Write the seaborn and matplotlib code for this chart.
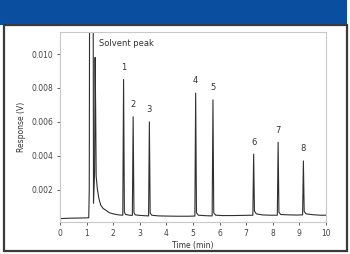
import matplotlib
matplotlib.use("Agg")
import matplotlib.pyplot as plt
import seaborn as sns
import pandas as pd
from matplotlib.patches import Rectangle

# Chromatogram trace (time in min, response in V)
time = [0.0, 0.3, 0.6, 0.9, 1.08, 1.10, 1.12, 1.24, 1.26, 1.30, 1.32, 1.34, 1.36,
        1.40, 1.46, 1.53, 1.62, 1.72, 1.85, 2.0, 2.2, 2.36, 2.39, 2.42, 2.46, 2.6, 2.72,
        2.75, 2.78, 2.83, 3.0, 3.2, 3.33, 3.36, 3.39, 3.45, 3.7, 4.0, 4.4,
        4.8, 5.07, 5.10, 5.13, 5.2, 5.5, 5.72, 5.75, 5.78, 5.85, 6.1, 6.5,
        6.9, 7.25, 7.28, 7.31, 7.38, 7.6, 7.9, 8.17, 8.20, 8.23, 8.3, 8.6,
        8.9, 9.12, 9.15, 9.18, 9.25, 9.5, 9.8, 10.0]
response = [0.00030, 0.00032, 0.00033, 0.00034, 0.00035, 0.0020, 0.0200, 0.0200, 0.0012,
            0.0030, 0.0098, 0.0068, 0.0028, 0.0021, 0.0015, 0.0011, 0.0009, 0.0008,
            0.00065, 0.00058,
            0.00052, 0.00050, 0.0085, 0.00070, 0.00055, 0.00050, 0.00049, 0.0063,
            0.00065, 0.00052, 0.00049, 0.00047, 0.00046, 0.0060, 0.00062, 0.00050,
            0.00046, 0.00045, 0.00044, 0.00044, 0.00045, 0.0077, 0.00065, 0.00050,
            0.00047, 0.00046, 0.0073, 0.00065, 0.00050, 0.00048, 0.00048, 0.00049,
            0.00050, 0.0041, 0.00075, 0.00058, 0.00052, 0.00050, 0.00050, 0.0048,
            0.00068, 0.00054, 0.00052, 0.00051, 0.00052, 0.0037, 0.00072, 0.00058,
            0.00053, 0.00050, 0.00050]

peak_labels = ["1", "2", "3", "4", "5", "6", "7", "8"]
peak_times = [2.39, 2.75, 3.36, 5.10, 5.75, 7.28, 8.20, 9.15]
peak_heights = [0.0085, 0.0063, 0.0060, 0.0077, 0.0073, 0.0041, 0.0048, 0.0037]

x_ticks = [0, 1, 2, 3, 4, 5, 6, 7, 8, 9, 10]
y_ticks = [0.002, 0.004, 0.006, 0.008, 0.010]
y_tick_labels = ["0.002", "0.004", "0.006", "0.008", "0.010"]

df = pd.DataFrame({"Time (min)": time, "Response (V)": response})

sns.set_theme(style="white")
plt.rcParams["font.family"] = ["DejaVu Sans"]

fig = plt.figure(figsize=(3.5, 2.54), dpi=100)
W, H = 350, 254

# blue header band
fig.patches.append(Rectangle((0, 1 - 25 / H), 347 / W, 25 / H, transform=fig.transFigure,
                             facecolor="#0a4f9f", edgecolor="none", zorder=0))
# outer frame
fig.patches.append(Rectangle((4 / W, 3 / H), 343 / W, (251 - 25) / H, transform=fig.transFigure,
                             facecolor="white", edgecolor="#3a3a3a", linewidth=1.6, zorder=0))

ax = fig.add_axes([60 / W, 1 - 222 / H, (326 - 60) / W, (222 - 32) / H])
ax.set_zorder(5)
sns.lineplot(data=df, x="Time (min)", y="Response (V)", ax=ax, color="#303030",
             linewidth=0.8, estimator=None, sort=False)

for lab, t, h in zip(peak_labels, peak_times, peak_heights):
    ax.text(t, h + 0.00045, lab, ha="center", va="bottom", fontsize=6, color="#333333")
ax.text(1.45, 0.0106, "Solvent peak", ha="left", va="center", fontsize=6, color="#333333")

ax.set_xlim(0, 10)
ax.set_ylim(0.0001, 0.0113)
ax.set_xticks(x_ticks)
ax.set_xticklabels([str(v) for v in x_ticks])
ax.set_yticks(y_ticks)
ax.set_yticklabels(y_tick_labels)
ax.tick_params(axis="both", labelsize=5.5, colors="#444444", length=2, width=0.6, pad=3,
               direction="out", bottom=True, left=True)
ax.set_xlabel("Time (min)", fontsize=5.5, color="#333333", labelpad=2)
ax.set_ylabel("Response (V)", fontsize=5.5, color="#333333", labelpad=4)
for s in ax.spines.values():
    s.set_color("#c8c8c8")
    s.set_linewidth(0.8)
ax.grid(False)

fig.savefig("out.png", dpi=100)
